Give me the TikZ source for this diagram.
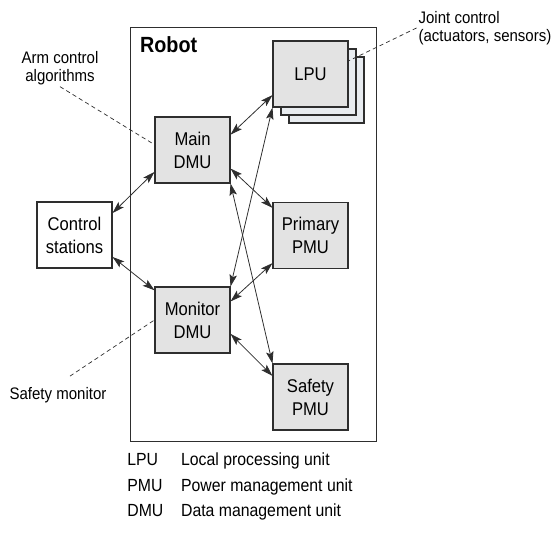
\documentclass[tikz,border=0pt]{standalone}
\usepackage{fontspec}
\setmainfont{Liberation Sans}[FakeStretch=0.9]
\usetikzlibrary{arrows.meta,calc}
\definecolor{boxfill}{HTML}{E3E3E3}
\definecolor{shadefill}{HTML}{E8ECF0}
\definecolor{edge}{HTML}{2E2E2E}

\begin{document}
\begin{tikzpicture}[
		unit/.style={draw=edge, line width=0.6pt, fill=boxfill, minimum width=1.5cm, minimum height=1.32cm, inner sep=0pt, align=center, font=\fontsize{10.5}{13}\selectfont},
		layer/.style={unit, fill=shadefill},
		link/.style={{Stealth[length=2.4mm,width=1.5mm,inset=0.5mm]}-{Stealth[length=2.4mm,width=1.5mm,inset=0.5mm]}, line width=0.45pt, edge},
		note/.style={dash pattern=on 2.4pt off 1.8pt, line width=0.4pt, edge},
		remark/.style={font=\fontsize{9.5}{10}\selectfont, inner sep=1pt},
		legend/.style={font=\fontsize{10}{12}\selectfont, inner sep=1pt, anchor=base west}]
			\useasboundingbox (0,0) rectangle (11.06,-10.98);
			\draw[edge, line width=0.5pt] (2.6,-0.54) rectangle (7.52,-8.82);
			\node[anchor=west, inner sep=1pt, font=\fontsize{12.5}{14}\bfseries] (robot) at (2.76,-0.89) {Robot};
			\node[layer] (lputwo) at (6.53,-1.80) {};
			\node[layer] (lpuone) at (6.37,-1.64) {};
			\node[unit] (lpu) at (6.21,-1.48) {LPU};
			\node[unit] (main) at (3.85,-3.0) {Main\\DMU};
			\node[unit] (mon) at (3.85,-6.4) {Monitor\\DMU};
			\node[unit, fill=white] (ctrl) at (1.49,-4.7) {Control\\stations};
			\node[unit] (prim) at (6.21,-4.71) {Primary\\PMU};
			\node[unit] (spmu) at (6.21,-7.94) {Safety\\PMU};
			\node[remark, align=center] (arm) at (1.2,-1.36) {Arm control\\algorithms};
			\node[remark, align=left, anchor=west] (joint) at (8.33,-0.56) {Joint control\\(actuators, sensors)};
			\node[remark] (safe) at (1.16,-7.9) {Safety monitor};
			\draw[link] (ctrl.30) -- (main.210);
			\draw[link] (ctrl.-30) -- (mon.142);
			\draw[link] (main.22) -- (lpu.209);
			\draw[link] (main.-26) -- (prim.144);
			\draw[link] (mon.26) -- (prim.216);
			\draw[link] (mon.-20) -- (spmu.151);
			\draw[link] (main.south east) -- (spmu.north west);
			\draw[link] (mon.north east) -- (lpu.south west);
			\draw[note] (arm.south) -- (main.172);
			\draw[note] (joint.west) -- (lpu.19);
			\draw[note] ($(safe.north)+(0.24,0.18)$) -- (mon.west);
			\node[legend] (lpuab) at (2.505,-9.3) {LPU};
			\node[legend] (lputx) at (3.58,-9.3) {Local processing unit};
			\node[legend] (pmuab) at (2.505,-9.83) {PMU};
			\node[legend] (pmutx) at (3.58,-9.83) {Power management unit};
			\node[legend] (dmuab) at (2.505,-10.33) {DMU};
			\node[legend] (dmutx) at (3.58,-10.33) {Data management unit};
		\end{tikzpicture}
\end{document}
